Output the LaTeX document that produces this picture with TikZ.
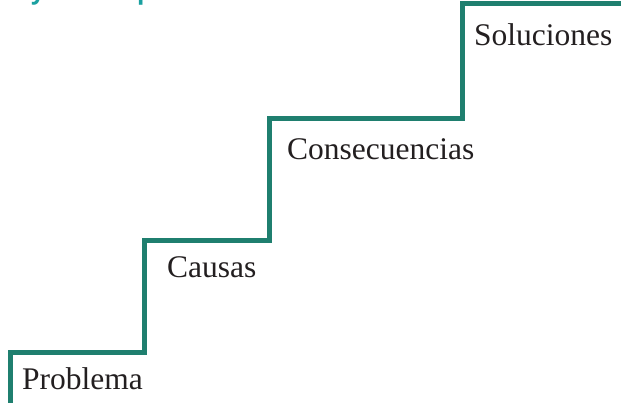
\documentclass[tikz,border=0pt]{standalone}
\usepackage{fontspec}
\setmainfont{Liberation Serif}
\newfontfamily\headfont{Open Sans}
\definecolor{stair}{RGB}{31,127,111}
\definecolor{headteal}{RGB}{26,160,160}
\definecolor{txt}{RGB}{35,31,32}
\tikzset{
  steplabel/.style={anchor=base west, inner sep=0pt, font=\fontsize{31.5}{36}\selectfont, text=txt},
  headfrag/.style={anchor=base west, inner sep=0pt, font=\headfont\bfseries\fontsize{24}{28}\selectfont, text=headteal},
  stairline/.style={draw=stair, line width=5pt, line join=miter}
}
\begin{document}
\begin{tikzpicture}[x=1pt,y=-1pt]
\useasboundingbox (0,0) rectangle (621,403);
\clip (0,0) rectangle (621,403);
% cut-off heading fragments
\node[headfrag] (hy) at (31,-0.5) {y};
\node[headfrag] (hp) at (137,-0.5) {p};
% staircase
\draw[stairline] (10.5,410) -- (10.5,352.5) -- (144,352.5) -- (144,241)
  -- (269.5,241) -- (269.5,119) -- (462.5,119) -- (462.5,4) -- (630,4);
% labels
\node[steplabel] (problema) at (22,389) {Problema};
\node[steplabel] (causas) at (167,278) {Causas};
\node[steplabel] (consecuencias) at (287,160) {Consecuencias};
\node[steplabel] (soluciones) at (474,46) {Soluciones};
\end{tikzpicture}
\end{document}
